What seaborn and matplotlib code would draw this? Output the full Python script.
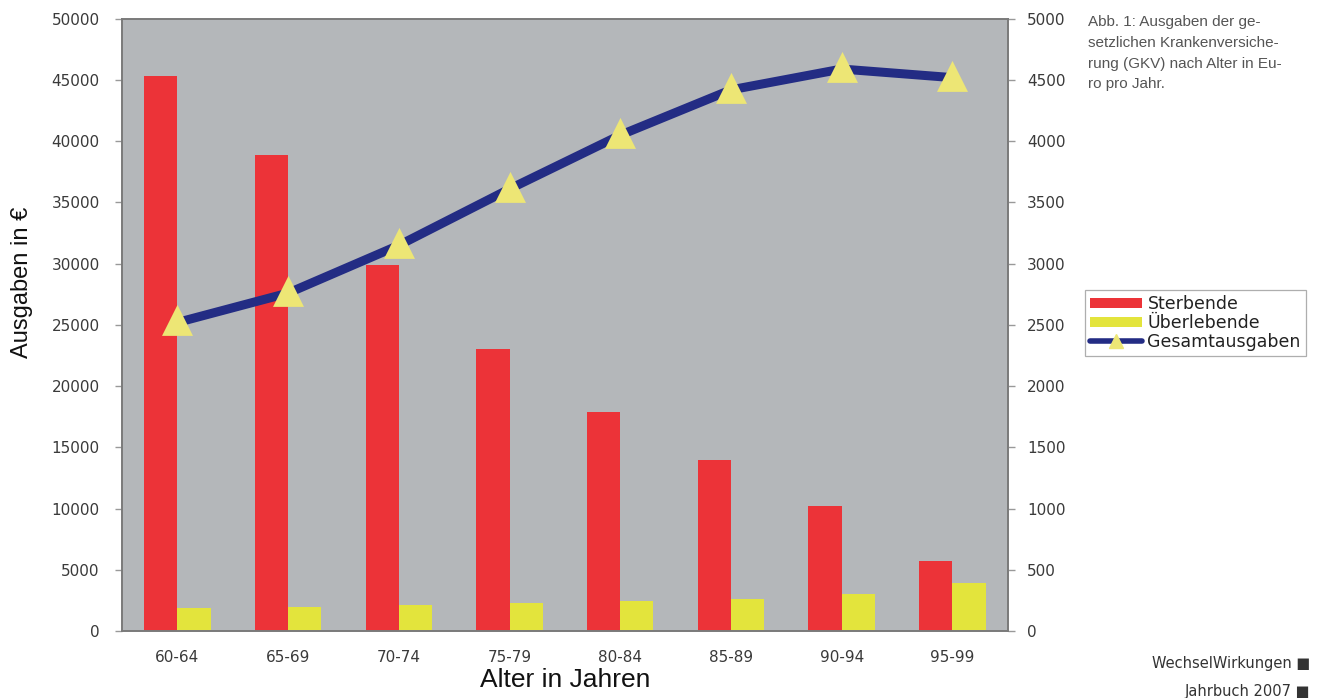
import numpy as np
import pandas as pd
import matplotlib
matplotlib.use("Agg")
import matplotlib.pyplot as plt
from matplotlib.patches import Patch
from matplotlib.lines import Line2D
from matplotlib.ticker import MultipleLocator, FixedLocator
import seaborn as sns

# --- data -------------------------------------------------------------
age_groups = ["60-64", "65-69", "70-74", "75-79", "80-84", "85-89", "90-94", "95-99"]
sterbende = [45300, 38900, 29900, 23000, 17900, 14000, 10200, 5700]
ueberlebende = [1900, 1990, 2100, 2260, 2440, 2600, 3000, 3950]
gesamtausgaben = [2520, 2760, 3150, 3610, 4050, 4420, 4590, 4520]
series_names = ["Sterbende", "Überlebende", "Gesamtausgaben"]

y_label = "Ausgaben in €"
x_label = "Alter in Jahren"
caption = ("Abb. 1: Ausgaben der ge-\nsetzlichen Krankenversiche-\n"
           "rung (GKV) nach Alter in Eu-\nro pro Jahr.")
footer_lines = ["WechselWirkungen ■", "Jahrbuch 2007 ■"]

# --- styling ----------------------------------------------------------
red = "#EC3338"
yellow = "#E3E43C"
navy = "#232C84"
marker_yellow = "#EDE675"
plot_bg = "#B4B7BA"
tick_color = "#3A3A3A"
tick_font = ["DejaVu Sans"]

sns.set_style("white")
plt.rcParams["font.family"] = ["Liberation Sans", "DejaVu Sans"]

df = pd.DataFrame({
    "Altersgruppe": age_groups * 2,
    "Ausgaben": sterbende + ueberlebende,
    "Gruppe": [series_names[0]] * len(age_groups) + [series_names[1]] * len(age_groups),
})

fig = plt.figure(figsize=(13.19, 6.98), dpi=100)
ax = fig.add_axes([0.0925, 0.096, 0.6715, 0.877])
ax.set_facecolor(plot_bg)

sns.barplot(data=df, x="Altersgruppe", y="Ausgaben", hue="Gruppe",
            order=age_groups, hue_order=series_names[:2],
            palette=[red, yellow], saturation=1, width=0.6, gap=0,
            legend=False, linewidth=0, edgecolor="none", ax=ax)

ax2 = ax.twinx()
sns.pointplot(x=age_groups, y=gesamtausgaben, order=age_groups, ax=ax2,
              color=navy, markers="^", linestyles="-", errorbar=None,
              markersize=14, linewidth=6.5)
for ln in ax2.lines:
    ln.set_markerfacecolor(marker_yellow)
    ln.set_markeredgecolor(marker_yellow)
    ln.set_solid_joinstyle("miter")

# axes limits and ticks
ax.set_xlim(-0.5, len(age_groups) - 0.5)
ax2.set_xlim(-0.5, len(age_groups) - 0.5)
ax.set_ylim(0, 50000)
ax2.set_ylim(0, 5000)
ax.yaxis.set_major_locator(MultipleLocator(5000))
ax2.yaxis.set_major_locator(MultipleLocator(500))
ax.xaxis.set_minor_locator(FixedLocator(np.arange(-0.5, len(age_groups), 1.0)))

ax.tick_params(axis="x", which="major", length=0, pad=14, labelsize=11,
               labelcolor=tick_color)
ax.tick_params(axis="x", which="minor", length=5, direction="out",
               color="#777777", width=1)
ax.tick_params(axis="y", length=5, direction="out", color="#999999",
               width=1, pad=11, labelsize=11, labelcolor=tick_color, left=True)
ax2.tick_params(axis="y", length=5, direction="out", color="#999999",
                width=1, pad=9, labelsize=11, labelcolor=tick_color, right=True)
ax2.tick_params(axis="x", bottom=False, labelbottom=False)
for lab in ax.get_xticklabels() + ax.get_yticklabels() + ax2.get_yticklabels():
    lab.set_family(tick_font)

ax.set_xlabel(x_label, fontsize=19, color="#111111", va="top")
ax.xaxis.set_label_coords(0.5, -0.060)
ax.set_ylabel(y_label, fontsize=17, color="#111111")
ax.yaxis.set_label_coords(-0.100, 0.569)
ax2.set_xlabel("")
ax2.set_ylabel("")

for a in (ax, ax2):
    for side, sp in a.spines.items():
        sp.set_visible(True)
        sp.set_color("#7A7A7A")
        sp.set_linewidth(1.2)

# legend
handles = [
    Patch(facecolor=red, edgecolor="none", label=series_names[0]),
    Patch(facecolor=yellow, edgecolor="none", label=series_names[1]),
    Line2D([0], [0], color=navy, linewidth=4, marker="^", markersize=10,
           markerfacecolor=marker_yellow, markeredgecolor=marker_yellow,
           label=series_names[2]),
]
leg = fig.legend(handles=handles, loc="upper left",
                 bbox_to_anchor=(0.8225, 0.585), frameon=True, fancybox=False,
                 prop={"family": tick_font, "size": 12.5},
                 handlelength=3.0, handleheight=0.5,
                 handletextpad=0.3, labelspacing=0.06, borderpad=0.3,
                 borderaxespad=0)
leg.get_frame().set_edgecolor("#9A9A9A")
leg.get_frame().set_linewidth(0.9)
for t in leg.get_texts():
    t.set_color("#222222")

# caption and footer
fig.text(0.8245, 0.978, caption, ha="left", va="top", fontsize=11,
         color="#555555", linespacing=1.6)
fig.text(0.9935, 0.050, footer_lines[0], ha="right", va="center", fontsize=10.5,
         color="#333333", family=["DejaVu Sans"])
fig.text(0.9935, 0.010, footer_lines[1], ha="right", va="center", fontsize=10.5,
         color="#333333", family=["DejaVu Sans"])

fig.savefig("out.png", dpi=100, facecolor="white")
